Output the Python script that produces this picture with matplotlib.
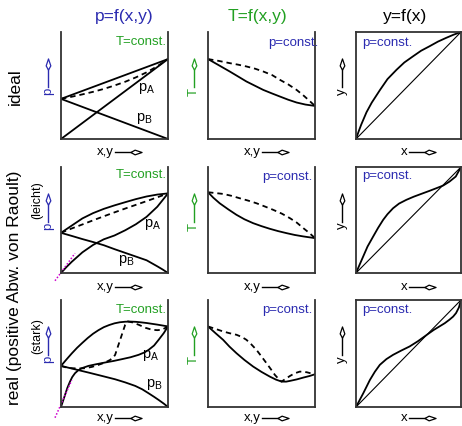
import matplotlib
matplotlib.use("Agg")
import matplotlib.pyplot as plt
from matplotlib.path import Path

plt.rcParams['font.family'] = ['Liberation Sans', 'DejaVu Sans']

BLUE = '#2b2bb0'
GREEN = '#22a022'
MAGENTA = '#cc00cc'

# ---------------- data (axes 0..1) ----------------
# Row 1: ideal
r1_px = [0.0, 1.0]
r1_pA = [0.0, 0.747]
r1_pB = [0.375, 0.0]
r1_ptot = [0.375, 0.747]
r1_dew_x = [0.0, 0.1, 0.2, 0.3, 0.4, 0.5, 0.6, 0.7, 0.8, 0.9, 1.0]
r1_dew = [0.375, 0.395, 0.417, 0.441, 0.468, 0.50, 0.535, 0.576, 0.623, 0.680, 0.747]

r1_Tb_x = [0.0, 0.1, 0.203, 0.28, 0.359, 0.44, 0.516, 0.6, 0.672, 0.75, 0.828, 0.91, 1.0]
r1_Tb = [0.747, 0.69, 0.631, 0.585, 0.5375, 0.497, 0.459, 0.425, 0.397, 0.367, 0.341, 0.322, 0.309]
r1_Td_x = [0.0, 0.1, 0.203, 0.28, 0.359, 0.44, 0.516, 0.6, 0.672, 0.75, 0.828, 0.9, 0.95, 1.0]
r1_Td = [0.747, 0.73, 0.709, 0.695, 0.678, 0.657, 0.631, 0.597, 0.553, 0.51, 0.459, 0.40, 0.355, 0.309]

r1_yx_x = [0.0, 0.025, 0.05, 0.1, 0.15, 0.229, 0.3, 0.386, 0.46, 0.542, 0.62, 0.699, 0.78, 0.856, 0.93, 1.0]
r1_yx_y = [0.0, 0.07, 0.135, 0.25, 0.34, 0.459, 0.56, 0.647, 0.715, 0.772, 0.825, 0.866, 0.91, 0.944, 0.975, 1.0]

# Row 2: real, slight positive deviation
r2_x = [0.0, 0.1, 0.2, 0.3, 0.4, 0.5, 0.6, 0.7, 0.8, 0.9, 1.0]
r2_ptot = [0.379, 0.447, 0.515, 0.565, 0.605, 0.638, 0.668, 0.697, 0.722, 0.740, 0.751]
r2_dew = [0.379, 0.42, 0.458, 0.497, 0.535, 0.572, 0.608, 0.643, 0.678, 0.714, 0.751]
r2_pA_x = [0.0, 0.05, 0.1, 0.2, 0.3, 0.4, 0.5, 0.6, 0.7, 0.8, 0.9, 1.0]
r2_pA = [0.0, 0.055, 0.105, 0.195, 0.265, 0.318, 0.354, 0.403, 0.46, 0.53, 0.625, 0.751]
r2_pB_x = [0.0, 0.1, 0.2, 0.3, 0.4, 0.5, 0.6, 0.7, 0.8, 0.9, 0.95, 1.0]
r2_pB = [0.379, 0.35, 0.32, 0.292, 0.262, 0.225, 0.19, 0.155, 0.12, 0.063, 0.033, 0.0]
r2_henry_x = [-0.056, 0.131]
r2_henry_y = [-0.073, 0.186]

r2_Tb_x = [0.0, 0.05, 0.109, 0.19, 0.266, 0.34, 0.422, 0.5, 0.578, 0.656, 0.734, 0.81, 0.891, 1.0]
r2_Tb = [0.762, 0.71, 0.658, 0.60, 0.549, 0.507, 0.470, 0.442, 0.417, 0.395, 0.376, 0.359, 0.345, 0.329]
r2_Td_x = [0.0, 0.141, 0.22, 0.297, 0.375, 0.453, 0.53, 0.609, 0.69, 0.766, 0.83, 0.891, 0.95, 1.0]
r2_Td = [0.762, 0.746, 0.728, 0.705, 0.683, 0.658, 0.628, 0.596, 0.56, 0.517, 0.475, 0.423, 0.375, 0.329]

r2_yx_x = [0.0, 0.069, 0.11, 0.164, 0.21, 0.259, 0.30, 0.353, 0.41, 0.479, 0.55, 0.637, 0.70, 0.763, 0.83, 0.89, 0.95, 1.0]
r2_yx_y = [0.0, 0.157, 0.25, 0.345, 0.425, 0.502, 0.555, 0.611, 0.655, 0.69, 0.72, 0.752, 0.775, 0.799, 0.825, 0.862, 0.91, 1.0]

# Row 3: real, strong positive deviation
r3_ptot_x = [0.0, 0.05, 0.1, 0.15, 0.2, 0.25, 0.3, 0.35, 0.4, 0.45, 0.5, 0.55, 0.6, 0.65, 0.7, 0.75, 0.8, 0.9, 1.0]
r3_ptot = [0.384, 0.443, 0.5, 0.553, 0.6, 0.645, 0.685, 0.718, 0.746, 0.766, 0.782, 0.792, 0.797, 0.798, 0.796, 0.791, 0.785, 0.77, 0.753]
r3_pA_x = [0.0, 0.0375, 0.06, 0.084, 0.105, 0.131, 0.16, 0.194, 0.256, 0.33, 0.4125, 0.49, 0.569, 0.65, 0.725, 0.78, 0.819, 0.87, 0.9125, 0.96, 1.0]
r3_pA = [0.0, 0.1125, 0.18, 0.2375, 0.28, 0.316, 0.342, 0.3625, 0.384, 0.40, 0.416, 0.43, 0.447, 0.465, 0.4875, 0.51, 0.534, 0.575, 0.628, 0.69, 0.753]
r3_pB_x = [0.0, 0.128, 0.256, 0.38, 0.506, 0.6, 0.694, 0.76, 0.819, 0.87, 0.9125, 0.96, 1.0]
r3_pB = [0.384, 0.353, 0.322, 0.291, 0.259, 0.23, 0.197, 0.165, 0.128, 0.095, 0.066, 0.032, 0.0]
r3_dew_x = [0.0, 0.05, 0.1, 0.16, 0.225, 0.29, 0.35, 0.41, 0.459, 0.49, 0.506, 0.53, 0.553, 0.58, 0.6, 0.625,
            0.67, 0.725, 0.79, 0.85, 0.9, 0.944, 1.0]
r3_dew = [0.384, 0.37, 0.3625, 0.36, 0.3625, 0.375, 0.394, 0.415, 0.44, 0.465, 0.4875, 0.56, 0.628, 0.71, 0.769, 0.80,
          0.79, 0.769, 0.74, 0.722, 0.718, 0.722, 0.753]
r3_henry_x = [-0.056, 0.10]
r3_henry_y = [-0.10, 0.25]

r3_Tb_x = [0.0, 0.07, 0.141, 0.2, 0.266, 0.34, 0.422, 0.5, 0.578, 0.635, 0.6875, 0.73, 0.766, 0.83, 0.891, 0.95, 1.0]
r3_Tb = [0.753, 0.69, 0.628, 0.565, 0.503, 0.44, 0.378, 0.328, 0.284, 0.256, 0.2375, 0.237, 0.244, 0.258, 0.275, 0.29, 0.306]
r3_Td_x = [0.0, 0.07, 0.141, 0.2, 0.266, 0.315, 0.359, 0.405, 0.453, 0.5, 0.547, 0.59, 0.625, 0.66, 0.6875,
           0.72, 0.766, 0.81, 0.859, 0.922, 0.96, 1.0]
r3_Td = [0.753, 0.73, 0.706, 0.69, 0.675, 0.655, 0.628, 0.585, 0.534, 0.472, 0.409, 0.35, 0.30, 0.262, 0.2375,
         0.26, 0.29, 0.315, 0.331, 0.325, 0.315, 0.306]

r3_yx_x = [0.0, 0.035, 0.069, 0.1325, 0.18, 0.227, 0.29, 0.353, 0.43, 0.511, 0.59, 0.675, 0.74, 0.795, 0.845,
           0.89, 0.925, 0.953, 0.98, 1.0]
r3_yx_y = [0.0, 0.065, 0.128, 0.253, 0.33, 0.394, 0.448, 0.4875, 0.527, 0.566, 0.615, 0.675, 0.72, 0.753, 0.783,
           0.816, 0.845, 0.878, 0.93, 1.0]

diag = [0.0, 1.0]

titles = ['p=f(x,y)', 'T=f(x,y)', 'y=f(x)']

# ---------------- layout ----------------
W, H = 462, 426
fig = plt.figure(figsize=(W / 100, H / 100), dpi=100)

col_left = [61, 208, 356]
col_w = [107, 107, 105]
row_top = [32, 167, 300]
row_h = [107, 106, 107]

LW = 1.3
DASH = (0, (3.0, 2.2))
SPINE = '#333333'

head_h = Path([(-1, 0), (-0.25, 0.42), (1, 0), (-0.25, -0.42), (-1, 0)],
              [Path.MOVETO, Path.LINETO, Path.LINETO, Path.LINETO, Path.CLOSEPOLY])
head_v = Path([(0, -1), (0.42, -0.25), (0, 1), (-0.42, -0.25), (0, -1)],
              [Path.MOVETO, Path.LINETO, Path.LINETO, Path.LINETO, Path.CLOSEPOLY])


def make_ax(r, c, open_top):
    l, t, w, h = col_left[c], row_top[r], col_w[c], row_h[r]
    ax = fig.add_axes([l / W, 1 - (t + h) / H, w / W, h / H])
    ax.set_xlim(0, 1)
    ax.set_ylim(0, 1)
    ax.set_xticks([])
    ax.set_yticks([])
    for s in ax.spines.values():
        s.set_color(SPINE)
        s.set_linewidth(1.3)
    if open_top:
        ax.spines['top'].set_visible(False)
    return ax


def xlabel(ax, txt, yoff=-0.12):
    ax.text(0.49, yoff, txt, transform=ax.transAxes, ha='right', va='center',
            fontsize=9.5, color='black')
    ax.plot([0.50, 0.665], [yoff, yoff], transform=ax.transAxes, color='black',
            lw=1.0, clip_on=False)
    ax.plot([0.70], [yoff], transform=ax.transAxes, marker=head_h, ms=8,
            mfc='white', mec='black', mew=0.9, clip_on=False)


def ylabel(ax, txt, color, xoff=-0.13):
    ax.text(xoff, 0.475, txt, transform=ax.transAxes, ha='center', va='top',
            rotation=90, fontsize=9.5, color=color)
    ax.plot([xoff, xoff], [0.485, 0.66], transform=ax.transAxes, color=color,
            lw=1.0, clip_on=False)
    ax.plot([xoff], [0.70], transform=ax.transAxes, marker=head_v, ms=8,
            mfc='white', mec=color, mew=0.9, clip_on=False)


def tconst(ax, y):
    ax.text(0.99, y, 'T=const.', transform=ax.transAxes, ha='right', va='center',
            fontsize=9.5, color=GREEN)


def pconst_right(ax, x, y):
    ax.text(x, y, 'p=const.', transform=ax.transAxes, ha='right', va='center',
            fontsize=9.5, color=BLUE)


def pconst_left(ax, y):
    ax.text(0.054, y, 'p=const.', transform=ax.transAxes, ha='left', va='center',
            fontsize=9.5, color=BLUE)


def plab(ax, sub, x, y):
    ax.text(x, y, r'$\mathregular{p_%s}$' % sub, transform=ax.transAxes,
            ha='center', va='center', fontsize=10.5, color='black')


def curve(ax, x, y, dashed=False):
    ax.plot(x, y, color='black', lw=LW, ls=DASH if dashed else '-',
            solid_joinstyle='round', dash_joinstyle='round')


# ---------- row 1 ----------
ax = make_ax(0, 0, True)
curve(ax, r1_px, r1_pA)
curve(ax, r1_px, r1_pB)
curve(ax, r1_px, r1_ptot)
curve(ax, r1_dew_x, r1_dew, True)
tconst(ax, 0.906)
plab(ax, 'A', 0.80, 0.47)
plab(ax, 'B', 0.78, 0.19)
xlabel(ax, 'x,y')
ylabel(ax, 'p', BLUE, -0.12)

ax = make_ax(0, 1, True)
curve(ax, r1_Tb_x, r1_Tb)
curve(ax, r1_Td_x, r1_Td, True)
pconst_right(ax, 1.03, 0.90)
xlabel(ax, 'x,y')
ylabel(ax, 'T', GREEN, -0.135)

ax = make_ax(0, 2, False)
ax.plot(diag, diag, color='black', lw=0.8)
curve(ax, r1_yx_x, r1_yx_y)
pconst_left(ax, 0.90)
xlabel(ax, 'x')
ylabel(ax, 'y', 'black', -0.138)

# ---------- row 2 ----------
ax = make_ax(1, 0, True)
curve(ax, r2_x, r2_ptot)
curve(ax, r2_x, r2_dew, True)
curve(ax, r2_pA_x, r2_pA)
curve(ax, r2_pB_x, r2_pB)
ax.plot(r2_henry_x, r2_henry_y, color=MAGENTA, lw=1.1, ls=(0, (1, 1.2)), clip_on=False)
tconst(ax, 0.925)
plab(ax, 'A', 0.855, 0.46)
plab(ax, 'B', 0.61, 0.12)
xlabel(ax, 'x,y', -0.13)
ylabel(ax, 'p', BLUE, -0.12)

ax = make_ax(1, 1, True)
curve(ax, r2_Tb_x, r2_Tb)
curve(ax, r2_Td_x, r2_Td, True)
pconst_right(ax, 0.98, 0.908)
xlabel(ax, 'x,y', -0.13)
ylabel(ax, 'T', GREEN, -0.135)

ax = make_ax(1, 2, False)
ax.plot(diag, diag, color='black', lw=0.8)
curve(ax, r2_yx_x, r2_yx_y)
pconst_left(ax, 0.915)
xlabel(ax, 'x', -0.13)
ylabel(ax, 'y', 'black', -0.138)

# ---------- row 3 ----------
ax = make_ax(2, 0, True)
curve(ax, r3_ptot_x, r3_ptot)
curve(ax, r3_pA_x, r3_pA)
curve(ax, r3_pB_x, r3_pB)
curve(ax, r3_dew_x, r3_dew, True)
ax.plot(r3_henry_x, r3_henry_y, color=MAGENTA, lw=1.1, ls=(0, (1, 1.2)), clip_on=False)
tconst(ax, 0.906)
plab(ax, 'A', 0.835, 0.48)
plab(ax, 'B', 0.875, 0.21)
xlabel(ax, 'x,y', -0.105)
ylabel(ax, 'p', BLUE, -0.12)

ax = make_ax(2, 1, True)
curve(ax, r3_Tb_x, r3_Tb)
curve(ax, r3_Td_x, r3_Td, True)
pconst_right(ax, 0.98, 0.906)
xlabel(ax, 'x,y', -0.105)
ylabel(ax, 'T', GREEN, -0.135)

ax = make_ax(2, 2, False)
ax.plot(diag, diag, color='black', lw=0.8)
curve(ax, r3_yx_x, r3_yx_y)
pconst_left(ax, 0.906)
xlabel(ax, 'x', -0.105)
ylabel(ax, 'y', 'black', -0.138)

# ---------- titles and row labels ----------
fig.text(124 / W, 1 - 16 / H, titles[0], ha='center', va='center', fontsize=12.5, color=BLUE)
fig.text(257 / W, 1 - 16 / H, titles[1], ha='center', va='center', fontsize=12.5, color=GREEN)
fig.text(405 / W, 1 - 16 / H, titles[2], ha='center', va='center', fontsize=12.5, color='black')

fig.text(15 / W, 1 - 87 / H, 'ideal', rotation=90, ha='center', va='center', fontsize=12.5)
fig.text(15 / W, 1 - 288 / H, 'real (positive Abw. von Raoult)', rotation=90,
         ha='center', va='center', fontsize=12.5)
fig.text(37 / W, 1 - 200 / H, '(leicht)', rotation=90, ha='center', va='center', fontsize=9)
fig.text(37 / W, 1 - 336 / H, '(stark)', rotation=90, ha='center', va='center', fontsize=9)

fig.savefig('out.png', dpi=100)
